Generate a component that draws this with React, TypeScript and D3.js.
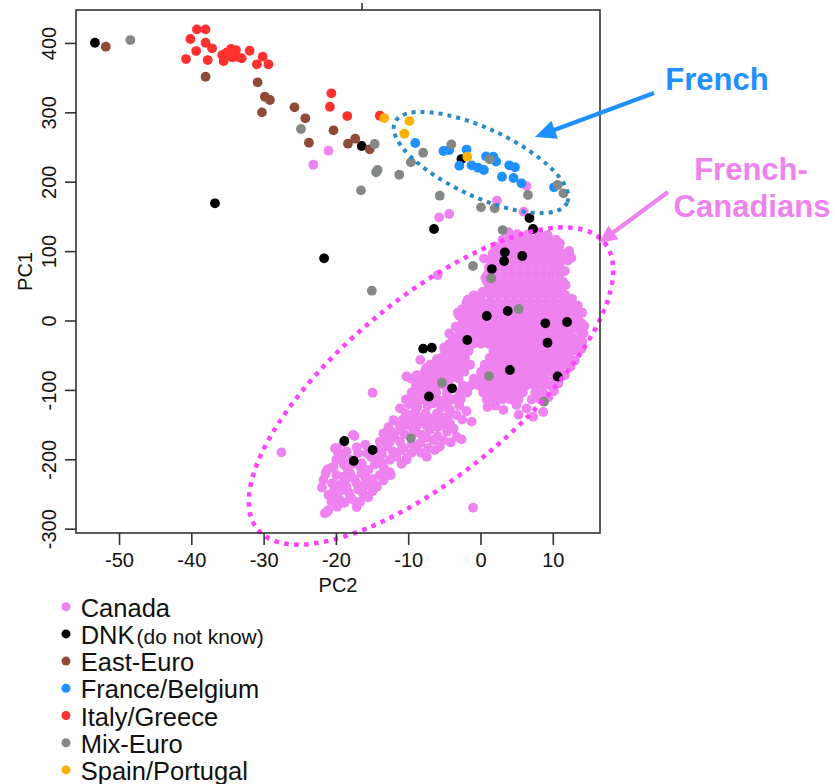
import React from "react";
import * as d3 from "d3";

const W = 835;
const H = 784;
const PLOT = { left: 76, right: 600, top: 10, bottom: 533 };
const xDomain: [number, number] = [-56.02, 16.46];
const yDomain: [number, number] = [-305.5, 448.2];
const xTicks = [-50, -40, -30, -20, -10, 0, 10];
const yTicks = [-300, -200, -100, 0, 100, 200, 300, 400];

const groups = ["Canada", "DNK", "East-Euro", "France/Belgium", "Italy/Greece", "Mix-Euro", "Spain/Portugal"];
const groupColors = ["#EE82EE", "#000000", "#8E4B37", "#1E90FF", "#FF3030", "#858985", "#FFB000"];

// Canada: dense core, read row by row (PC1 value, PC2 values)
const canadaRows: [number, number[]][] = [
  [125, [5.0, 6.5, 8.0]],
  [117, [3.0, 4.1, 5.2, 6.3, 7.4, 8.5, 9.6, 10.4]],
  [107, [2.0, 3.1, 4.2, 5.3, 6.4, 7.5, 8.6, 9.7, 10.8]],
  [97, [1.6, 2.7, 3.8, 4.9, 6.0, 7.1, 8.2, 9.3, 10.4, 11.5]],
  [87, [1.3, 2.4, 3.5, 4.6, 5.7, 6.8, 7.9, 9.0, 10.1, 11.2, 12.0]],
  [77, [1.1, 2.2, 3.3, 4.4, 5.5, 6.6, 7.7, 8.8, 9.9, 10.9]],
  [67, [0.9, 2.0, 3.1, 4.2, 5.3, 6.4, 7.5, 8.6, 9.7, 10.8]],
  [57, [0.8, 1.9, 3.0, 4.1, 5.2, 6.3, 7.4, 8.5, 9.6, 10.7, 11.3]],
  [47, [1.0, 2.1, 3.2, 4.3, 5.4, 6.5, 7.6, 8.7, 9.8, 10.9]],
  [37, [-1.0, 0.0, 1.3, 2.4, 3.5, 4.6, 5.7, 6.8, 7.9, 9.0, 10.1, 11.2, 11.7]],
  [27, [-2.0, -0.9, 0.2, 1.3, 2.4, 3.5, 4.6, 5.7, 6.8, 7.9, 9.0, 10.1, 11.2, 12.2]],
  [17, [-2.6, -1.5, -0.4, 0.7, 1.8, 2.9, 4.0, 5.1, 6.2, 7.3, 8.4, 9.5, 10.6, 11.7, 12.8]],
  [7, [-3.0, -1.9, -0.8, 0.3, 1.4, 2.5, 3.6, 4.7, 5.8, 6.9, 8.0, 9.1, 10.2, 11.3, 12.4, 13.5]],
  [-3, [-2.6, -1.5, -0.4, 0.7, 1.8, 2.9, 4.0, 5.1, 6.2, 7.3, 8.4, 9.5, 10.6, 11.7, 12.8, 13.9]],
  [-13, [-3.0, -1.9, -0.8, 0.3, 1.4, 2.5, 3.6, 4.7, 5.8, 6.9, 8.0, 9.1, 10.2, 11.3, 12.4, 13.6]],
  [-23, [-3.9, -2.8, -1.7, -0.6, 0.5, 1.6, 2.7, 3.8, 4.9, 6.0, 7.1, 8.2, 9.3, 10.4, 11.5, 12.6, 13.8]],
  [-33, [-4.4, -3.3, -2.2, -1.1, 0.0, 1.1, 2.2, 3.3, 4.4, 5.5, 6.6, 7.7, 8.8, 9.9, 11.0, 12.1, 13.3]],
  [-43, [-5.0, -3.9, -2.8, -1.7, 1.7, 2.8, 3.9, 5.0, 6.1, 7.2, 8.3, 9.4, 10.5, 11.6, 12.7, 13.4]],
  [-53, [-5.5, -4.4, -3.3, -2.2, 1.2, 2.3, 3.4, 4.5, 5.6, 6.7, 7.8, 8.9, 10.0, 11.1, 12.2]],
  [-63, [-7.0, -5.9, -4.8, -3.7, -2.6, -1.5, 0.5, 1.6, 2.7, 3.8, 4.9, 6.0, 7.1, 8.2, 9.3, 10.4, 11.5]],
  [-73, [-7.8, -6.7, -5.6, -4.5, -3.4, -2.3, 0.0, 1.1, 2.2, 3.3, 4.4, 5.5, 6.6, 7.7, 8.8, 9.9, 11.0]],
  [-83, [-9.7, -8.6, -7.5, -6.4, -5.3, -4.2, -3.1, -1.0, 0.1, 1.2, 2.3, 3.4, 4.5, 5.6, 6.7, 7.8, 8.9, 10.2]],
  [-93, [-9.0, -8.0, -7.0, -6.0, -5.0, -2.5, -1.4, -0.3, 0.8, 1.9, 3.0, 4.1, 5.2, 6.3, 7.4, 8.5, 9.6]],
  [-103, [-9.6, -8.4, -7.3, -6.2, -4.7, -3.0, -1.9, 0.3, 1.4, 2.5, 3.6, 4.7, 5.8, 7.5, 8.6]],
  [-113, [-10.4, -9.3, -8.2, -7.1, -6.0, -4.9, -3.8, -2.8, 0.8, 1.9, 3.0, 4.1, 5.2, 7.0, 8.2]],
];

// Canada: irregular points on the rim of the dense core
const canadaRim: [number, number][] = [
  [3.8, 128], [9.2, 124], [10.9, 112], [12.2, 101], [12.5, 91], [11.6, 72], [11.7, 52], [11.3, 40],
  [12.6, 32], [13.4, 22], [14.0, 12], [14.3, -7], [14.2, -18], [14.0, -30], [13.9, -40], [13.0, -57],
  [12.4, -66], [11.6, -78], [10.7, -90], [10.1, -101], [9.3, -110], [0.4, 90], [0.6, 62], [0.2, 42],
  [-1.8, 31], [-3.2, 12], [-3.5, -8], [-4.4, -18], [-5.1, -38], [-6.1, -55], [-7.6, -68], [-8.9, -78],
];

const canadaArm: [number, number][] = [
  [-11.2, -125.8], [-9.1, -130.7], [-7.7, -133], [-6.1, -133], [-4.3, -128], [-3.4, -135.5],
  [-9.6, -142.7], [-8.0, -145], [-6.4, -145], [-5.2, -150], [-4.3, -147.4], [-12.1, -142.7],
  [-11.2, -157], [-9.4, -154.6], [-7.1, -157], [-4.7, -159.5], [-3.4, -166.7], [-13.5, -161.8],
  [-12.4, -159.5], [-14, -174], [-12.6, -174], [-11.2, -174], [-10.7, -183.4], [-8.9, -183.4],
  [-7.3, -183.4], [-5.7, -181], [-11.7, -195.5], [-10.3, -197.8], [-7.5, -195.5], [-13, -181],
  [-14.2, -185.9], [-6.6, -118.6], [-4.7, -118.6], [-1.3, -145], [-2.7, -170.5], [-6.6, -171.5],
  [-8.4, -176], [-10.3, -200], [-9.5, -136], [-10.8, -142], [-8.2, -164], [-6.0, -166],
  [-9.8, -166], [-11, -186], [-8.4, -56], [-10.3, -80],
  [-10.0, -120], [-8.8, -124], [-7.4, -122], [-5.5, -125], [-3.0, -122], [-2.0, -130], [-10.4, -133],
  [-8.4, -139], [-7.0, -140], [-5.4, -139], [-4.5, -136], [-2.6, -142], [-11.3, -149], [-10.2, -150],
  [-8.8, -150], [-7.5, -151], [-6.0, -153], [-3.8, -155], [-12.8, -153], [-10.6, -163], [-9.0, -160],
  [-7.6, -168], [-5.2, -172], [-4.2, -175], [-13.2, -168], [-12.0, -167], [-9.6, -177], [-6.4, -186],
  [-12.2, -188], [-9.6, -190], [-8.3, -190], [-13.7, -192], [-11.0, -206], [-12.6, -200],
  [2.0, -122], [3.1, -128], [4.9, -121], [6.3, -126], [7.2, -138], [8.6, -131], [5.2, -135], [0.9, -124],
];

const canadaLowerLeft: [number, number][] = [
  [-17.7, -164.3], [-20.2, -183.4], [-19.3, -195.5], [-20.4, -210], [-21.3, -214.7], [-21.8, -229.1],
  [-20.6, -233.9], [-21.1, -250.7], [-20.4, -253.2], [-21.3, -274.8], [-17, -190.6], [-15.8, -190.6],
  [-14.4, -200.3], [-13.5, -210], [-13, -217.2], [-14, -221.9], [-16.7, -210], [-15.6, -214.7],
  [-18.1, -219.5], [-19, -224.4], [-19.7, -236.3], [-18.6, -238.8], [-17.2, -233.9], [-15.8, -233.9],
  [-14.4, -238.8], [-18.1, -253.2], [-19.5, -258], [-16.3, -248.3], [-16.7, -260.4], [-16.5, -219.5],
  [-19.9, -267.6], [-21.1, -272.4], [-21.6, -277.1], [-19.9, -183.4], [-20.9, -212.3], [-17.5, -165.7],
  [-18, -200], [-16.5, -205], [-19, -207], [-17.5, -228], [-15, -228], [-13.5, -230], [-17, -243],
  [-15, -245], [-19.5, -245], [-12.5, -222], [-18.5, -213], [-14.7, -207], [-12.6, -218], [-17.2, -268],
  [-21.5, -220], [-20.0, -222], [-18.8, -230], [-20.3, -243], [-18.3, -247], [-16.2, -238], [-14.8, -235],
  [-13.2, -224], [-16.0, -226], [-17.8, -206], [-15.2, -196], [-13.8, -204], [-19.8, -190], [-18.6, -188],
  [-17.2, -182], [-16.0, -178], [-19.0, -175], [-20.7, -260], [-18.9, -262], [-17.8, -257], [-15.6, -254],
  [-20.0, -200], [-22.0, -240],
];

const canadaOutliers: [number, number][] = [
  [-23.2, 225.2], [-21.1, 245.4], [6.3, 194.5], [2.2, 173.4], [5.9, 157.5], [-5.8, 149.4],
  [-4.4, 154.2], [-27.6, -189.2], [-15, -103.3], [-1.1, -269], [-6.0, 66],
];

const dnk: [number, number][] = [
  [-53.4, 401], [-36.8, 169.6], [-21.7, 90.4], [-16.5, 252.2], [-2.7, 233.4], [6.7, 148.4],
  [7.2, 132.6], [-6.5, 132.6], [3.3, 99], [3.2, 86.5], [5.7, 93.7], [1.5, 74.9], [3.7, 14.4],
  [0.8, 7.2], [11.9, -1.4], [8.9, -3.3], [9.2, -31.3], [-1.9, -27.4], [-8.0, -39.9], [-6.8, -38.5],
  [4.0, -70.6], [10.6, -80], [-4.0, -97], [-7.2, -108.8], [-18.9, -172.9], [-17.6, -201.7], [-15.0, -185.9],
];

const eastEuro: [number, number][] = [
  [-51.9, 395.3], [-38.1, 352], [-30.9, 344], [-29.9, 323.2], [-29.2, 318.5], [-30.3, 300.7],
  [-25.8, 308], [-24.3, 292.1], [-23.8, 256.9], [-20.4, 274.8], [-18.4, 255.5], [-17.4, 262.7], [-15.4, 247.4],
];

const franceBelgium: [number, number][] = [
  [-9.1, 256.5], [-5.2, 245], [-4.4, 246.4], [-2.0, 247.1], [-3.0, 223.8], [-1.3, 224.4],
  [-0.4, 220.9], [0.4, 217.6], [0.7, 237.3], [1.7, 236.8], [2.1, 229.8], [3.9, 224.4],
  [4.7, 221.6], [2.9, 207.9], [4.5, 206.1], [5.6, 198.4], [10.1, 192.7],
];

const italyGreece: [number, number][] = [
  [-39.3, 420.3], [-38.1, 420.3], [-40.2, 406.4], [-38.1, 401], [-37.2, 393], [-39.4, 389],
  [-40.8, 377.5], [-37.8, 376.1], [-35.6, 374.7], [-35.2, 386.6], [-34.6, 392], [-33.9, 390.5],
  [-34.4, 380], [-33.7, 380.9], [-33.1, 378.5], [-32.0, 389.5], [-30.2, 380.9], [-31.0, 369.9],
  [-29.4, 369.9], [-20.7, 328.1], [-20.9, 308.8], [-18.5, 295.4], [-14.0, 295.8], [-35.8, 383.3], [-35.0, 383.3],
];

const mixEuro: [number, number][] = [
  [-48.5, 404.9], [-24.9, 276.7], [-14.7, 255.1], [-14.3, 217.6], [-14.5, 214.3], [-16.6, 188.3],
  [-11.3, 210.8], [-9.7, 228.7], [-15.1, 43.7], [-4.1, 254.6], [-8.0, 242.5], [-5.7, 180.6],
  [0.0, 163.8], [1.9, 162.4], [1.2, 233], [6.5, 181.6], [10.6, 196], [11.4, 184], [3.0, 131.1],
  [-1.1, 79.3], [1.4, 61.5], [5.2, 17.3], [1.1, -79.3], [8.7, -116.3], [-5.4, -88.9], [-9.7, -169],
];

const spainPortugal: [number, number][] = [
  [-13.4, 292.5], [-9.9, 288.2], [-10.6, 269.9], [-1.9, 236.8],
];

const canadaAll: [number, number][] = [
  ...canadaRows.flatMap(([y, xs]) => xs.map((x) => [x, y] as [number, number])),
  ...canadaRim,
  ...canadaArm,
  ...canadaLowerLeft,
  ...canadaOutliers,
];

const seriesData: [number, number][][] = [canadaAll, dnk, eastEuro, franceBelgium, italyGreece, mixEuro, spainPortugal];

const FONT = "'Liberation Sans', Arial, Helvetica, sans-serif";

function Arrow({ x1, y1, x2, y2, color, len, half, width }: any) {
  const dx = x2 - x1;
  const dy = y2 - y1;
  const d = Math.hypot(dx, dy);
  const ux = dx / d;
  const uy = dy / d;
  const bx = x2 - ux * len;
  const by = y2 - uy * len;
  const pts = [
    [x2, y2],
    [bx - uy * half, by + ux * half],
    [bx + uy * half, by - ux * half],
  ];
  return (
    <g>
      <line x1={x1} y1={y1} x2={bx + ux * 2} y2={by + uy * 2} stroke={color} strokeWidth={width} />
      <polygon points={pts.map((p) => p.join(",")).join(" ")} fill={color} />
    </g>
  );
}

export default function App() {
  const x = d3.scaleLinear().domain(xDomain).range([PLOT.left, PLOT.right]);
  const y = d3.scaleLinear().domain(yDomain).range([PLOT.bottom, PLOT.top]);
  const axisColor = "#333";
  const r = 4.9;

  return (
    <svg
      width={W}
      height={H}
      viewBox={`0 0 ${W} ${H}`}
      style={{ position: "absolute", left: 0, top: 0, background: "#fff" }}
      fontFamily={FONT}
    >
      <rect x={0} y={0} width={W} height={H} fill="#fff" />
      {seriesData.map((pts, gi) => (
        <g key={groups[gi]} fill={groupColors[gi]}>
          {pts.map((p, i) => (
            <circle key={i} cx={x(p[0])} cy={y(p[1])} r={r} />
          ))}
        </g>
      ))}

      <ellipse
        cx={481}
        cy={162.5}
        rx={95}
        ry={34}
        transform="rotate(25 481 162.5)"
        fill="none"
        stroke="#2A8BC4"
        strokeWidth={4}
        strokeDasharray="4 5"
      />
      <ellipse
        cx={431}
        cy={386}
        rx={225}
        ry={88}
        transform="rotate(-39.6 431 386)"
        fill="none"
        stroke="#FF40FF"
        strokeWidth={4.5}
        strokeDasharray="4.5 5.5"
      />

      <rect
        x={PLOT.left}
        y={PLOT.top}
        width={PLOT.right - PLOT.left}
        height={PLOT.bottom - PLOT.top}
        fill="none"
        stroke={axisColor}
        strokeWidth={1.6}
      />
      <line x1={362} y1={3} x2={362} y2={PLOT.top} stroke={axisColor} strokeWidth={1.6} />

      {xTicks.map((t) => (
        <g key={"x" + t}>
          <line x1={x(t)} x2={x(t)} y1={PLOT.bottom} y2={PLOT.bottom + 12} stroke={axisColor} strokeWidth={1.6} />
          <text x={x(t)} y={567} textAnchor="middle" fontSize={20} fill="#111">
            {t}
          </text>
        </g>
      ))}
      <text x={(PLOT.left + PLOT.right) / 2} y={592} textAnchor="middle" fontSize={20} fill="#111">
        PC2
      </text>

      {yTicks.map((t) => (
        <g key={"y" + t}>
          <line x1={PLOT.left - 11} x2={PLOT.left} y1={y(t)} y2={y(t)} stroke={axisColor} strokeWidth={1.6} />
          <text transform={`translate(56,${y(t)}) rotate(-90)`} textAnchor="middle" fontSize={20} fill="#111">
            {t}
          </text>
        </g>
      ))}
      <text
        transform={`translate(32,${(PLOT.top + PLOT.bottom) / 2}) rotate(-90)`}
        textAnchor="middle"
        fontSize={20}
        fill="#111"
      >
        PC1
      </text>

      {groups.map((g, i) => (
        <g key={"lg" + g}>
          <circle cx={66} cy={606.7 + 27.2 * i} r={4.5} fill={groupColors[i]} />
          <text x={80.7} y={616.7 + 27.2 * i} fontSize={25.5} fill="#111">
            {g}
            {g === "DNK" ? (
              <tspan fontSize={21} dx={2}>
                (do not know)
              </tspan>
            ) : null}
          </text>
        </g>
      ))}

      <Arrow x1={654} y1={93} x2={535} y2={137} color="#1E90FF" len={21} half={9.5} width={4.2} />
      <Arrow x1={668} y1={192} x2={599} y2={243} color="#EE82EE" len={18} half={8.5} width={4.2} />
      <text x={717} y={90} textAnchor="middle" fontSize={31} fontWeight="bold" fill="#1E90FF">
        French
      </text>
      <text x={751} y={180} textAnchor="middle" fontSize={31} fontWeight="bold" fill="#EE82EE">
        French-
      </text>
      <text x={752} y={217} textAnchor="middle" fontSize={31} fontWeight="bold" fill="#EE82EE">
        Canadians
      </text>
    </svg>
  );
}
